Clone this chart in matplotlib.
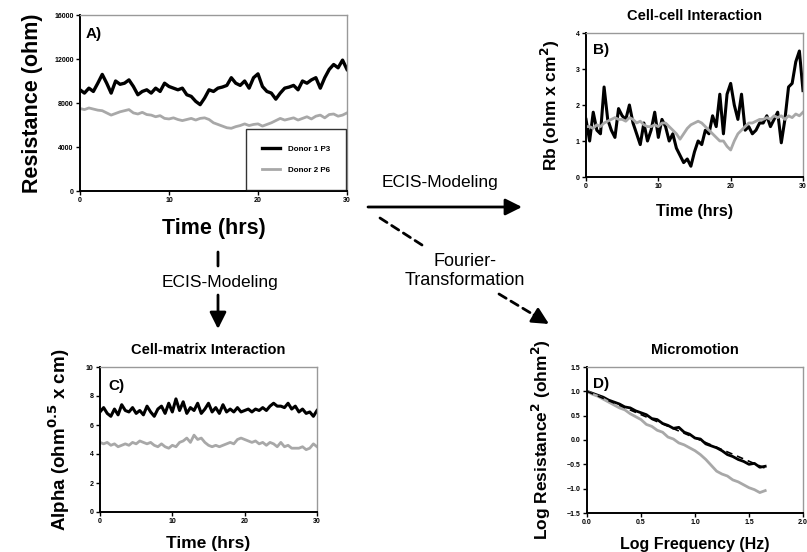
import numpy as np
import matplotlib.pyplot as plt
from matplotlib.patches import FancyArrowPatch

plt.rcParams['font.family'] = ['Liberation Sans', 'DejaVu Sans']

# time axis (hrs) for panels A, B, C
t = np.arange(0, 30.01, 0.5)

# A) resistance (ohm)
res_d1 = [9200, 8900, 9350, 9050, 9800, 10600, 9800, 8900, 10000, 9700,
          9800, 10100, 9500, 8750, 9050, 9200, 8900, 9350, 9050, 9800,
          9500, 9350, 9200, 9350, 8750, 8600, 8150, 7850, 8450, 9200,
          9050, 9350, 9450, 9600, 10300, 9800, 9600, 10000, 9350, 10300,
          10650, 9500, 9050, 8900, 8350, 8900, 9350, 9450, 9600, 9200,
          10000, 9800, 10100, 10300, 9350, 10300, 11050, 11500, 11200, 11900,
          11050]
res_d2 = [7500, 7400, 7550, 7450, 7350, 7300, 7100, 6900, 7050, 7200,
          7300, 7400, 7100, 7000, 7150, 6950, 6900, 6750, 6850, 6600,
          6550, 6650, 6500, 6400, 6500, 6600, 6450, 6600, 6650, 6500,
          6200, 6050, 5900, 5750, 5700, 5850, 5950, 6100, 5950, 6050,
          6100, 5900, 6050, 6200, 6400, 6600, 6450, 6550, 6650, 6450,
          6600, 6750, 6550, 6800, 6900, 6650, 6950, 7000, 6800, 6900,
          7100]

# B) Rb (ohm x cm^2)
rb_d1 = [1.6, 1.0, 1.8, 1.3, 1.2, 2.5, 1.6, 1.3, 1.1, 1.9,
         1.7, 1.6, 2.0, 1.5, 1.2, 0.9, 1.5, 1.0, 1.3, 1.8,
         1.1, 1.6, 1.4, 1.0, 1.2, 0.8, 0.6, 0.4, 0.5, 0.3,
         0.7, 1.0, 0.9, 1.3, 1.2, 1.7, 1.4, 2.3, 1.2, 2.3,
         2.6, 2.0, 1.6, 2.3, 1.3, 1.4, 1.2, 1.3, 1.5, 1.5,
         1.7, 1.4, 1.6, 1.8, 0.95, 1.6, 2.5, 2.6, 3.2, 3.5,
         2.4]
rb_d2 = [1.4, 1.4, 1.35, 1.45, 1.4, 1.5, 1.55, 1.6, 1.65, 1.6,
         1.6, 1.55, 1.65, 1.6, 1.5, 1.55, 1.45, 1.4, 1.4, 1.45,
         1.4, 1.5, 1.5, 1.4, 1.3, 1.2, 1.05, 1.2, 1.35, 1.45,
         1.5, 1.55, 1.5, 1.4, 1.3, 1.2, 1.1, 1.0, 1.0, 0.85,
         0.75, 1.0, 1.2, 1.3, 1.4, 1.5, 1.5, 1.55, 1.6, 1.6,
         1.65, 1.6, 1.7, 1.65, 1.7, 1.6, 1.7, 1.65, 1.75, 1.7,
         1.8]

# C) Alpha (ohm^0.5 x cm)
alpha_d1 = [6.9, 7.2, 6.8, 6.6, 7.1, 6.7, 7.4, 7.0, 6.9, 7.2,
            6.8, 7.0, 6.7, 7.3, 6.9, 6.6, 7.1, 7.3, 6.8, 7.5,
            6.9, 7.8, 7.0, 7.6, 6.8, 7.2, 7.0, 7.5, 6.8, 7.1,
            7.5, 6.9, 7.2, 6.8, 7.4, 6.9, 7.1, 6.9, 7.2, 6.9,
            7.0, 7.1, 6.9, 7.1, 7.0, 7.2, 7.0, 7.3, 7.5, 7.3,
            7.3, 7.2, 7.5, 7.1, 7.3, 6.9, 7.1, 6.8, 6.9, 6.6,
            7.0]
alpha_d2 = [4.8, 4.7, 4.8, 4.6, 4.7, 4.5, 4.6, 4.7, 4.6, 4.8,
            4.7, 4.9, 4.8, 4.7, 4.8, 4.6, 4.5, 4.7, 4.5, 4.4,
            4.6, 4.5, 4.8, 4.9, 5.1, 4.8, 5.3, 5.0, 5.1, 4.8,
            4.6, 4.5, 4.6, 4.5, 4.6, 4.7, 4.8, 4.7, 5.0, 5.1,
            5.0, 4.9, 4.8, 4.9, 4.7, 4.8, 4.6, 4.8, 4.7, 4.5,
            4.8, 4.5, 4.6, 4.4, 4.4, 4.4, 4.5, 4.3, 4.4, 4.7,
            4.5]

# D) micromotion spectra
logf = np.arange(0, 1.651, 0.05)
spec_d1 = [1.00, 0.96, 0.92, 0.88, 0.82, 0.78, 0.74, 0.68, 0.66, 0.60,
           0.56, 0.52, 0.44, 0.42, 0.34, 0.30, 0.24, 0.26, 0.16, 0.12,
           0.04, 0.02, -0.08, -0.12, -0.16, -0.22, -0.30, -0.34, -0.40, -0.44,
           -0.50, -0.48, -0.56, -0.54]
spec_d2 = [1.00, 0.94, 0.90, 0.84, 0.78, 0.72, 0.66, 0.62, 0.54, 0.48,
           0.42, 0.32, 0.28, 0.20, 0.16, 0.06, 0.02, -0.06, -0.10, -0.16,
           -0.22, -0.30, -0.40, -0.52, -0.64, -0.70, -0.74, -0.82, -0.86, -0.92,
           -0.98, -1.02, -1.08, -1.04]
fit_x = [0.0, 1.65]
fit_d1 = [1.0, -0.58]

W, H = 807, 552
BLACK = 'black'
GRAY = '#a8a8a8'

fig = plt.figure(figsize=(W / 100, H / 100), dpi=100)


def px_axes(l, t_, r, b):
    return fig.add_axes([l / W, 1 - b / H, (r - l) / W, (b - t_) / H])


def style(ax):
    for s in ['left', 'bottom']:
        ax.spines[s].set_linewidth(1.4)
    for s in ['top', 'right']:
        ax.spines[s].set_color('#999999')
        ax.spines[s].set_linewidth(1.0)
    ax.tick_params(length=3, width=1, labelsize=5, pad=1.5)
    for lab in ax.get_xticklabels() + ax.get_yticklabels():
        lab.set_fontweight('bold')


# panel A
axA = px_axes(80, 15, 347, 191)
axA.plot(t, res_d1, color=BLACK, lw=2.4, label='Donor 1 P3')
axA.plot(t, res_d2, color=GRAY, lw=2.0, label='Donor 2 P6')
axA.set_xlim(0, 30)
axA.set_ylim(0, 16000)
axA.set_xticks([0, 10, 20, 30])
axA.set_yticks([0, 4000, 8000, 12000, 16000])
axA.set_ylabel('Resistance (ohm)', fontsize=15.5, fontweight='bold', labelpad=8)
axA.set_xlabel('Time (hrs)', fontsize=15.5, fontweight='bold', labelpad=10)
axA.text(0.02, 0.93, 'A)', transform=axA.transAxes, fontsize=11,
         fontweight='bold', va='top')
leg = axA.legend(loc='lower right', frameon=True, fancybox=False,
                 edgecolor='black', borderpad=2.0, handlelength=2.2,
                 labelspacing=1.7, borderaxespad=0.1, handletextpad=1.0,
                 prop={'weight': 'bold', 'size': 5.8})
leg.get_frame().set_linewidth(1.0)
style(axA)

# panel B
axB = px_axes(586, 33, 803, 177)
axB.plot(t, rb_d1, color=BLACK, lw=2.2)
axB.plot(t, rb_d2, color=GRAY, lw=2.0)
axB.set_xlim(0, 30)
axB.set_ylim(0, 4)
axB.set_xticks([0, 10, 20, 30])
axB.set_yticks([0, 1, 2, 3, 4])
axB.set_title('Cell-cell Interaction', fontsize=10.5, fontweight='bold', pad=9)
axB.set_ylabel('Rb (ohm x cm$^\\mathbf{2}$)', fontsize=12.5, fontweight='bold', labelpad=10)
axB.set_xlabel('Time (hrs)', fontsize=11.5, fontweight='bold', labelpad=10)
axB.text(0.03, 0.93, 'B)', transform=axB.transAxes, fontsize=11,
         fontweight='bold', va='top')
style(axB)

# panel C
axC = px_axes(100, 367, 317, 512)
axC.plot(t, alpha_d1, color=BLACK, lw=2.2)
axC.plot(t, alpha_d2, color=GRAY, lw=2.0)
axC.set_xlim(0, 30)
axC.set_ylim(0, 10)
axC.set_xticks([0, 10, 20, 30])
axC.set_yticks([0, 2, 4, 6, 8, 10])
axC.set_title('Cell-matrix Interaction', fontsize=10.5, fontweight='bold', pad=9)
axC.set_ylabel('Alpha (ohm$^\\mathbf{0.5}$ x cm)', fontsize=13.5, fontweight='bold', labelpad=10)
axC.set_xlabel('Time (hrs)', fontsize=12.5, fontweight='bold', labelpad=8)
axC.text(0.04, 0.92, 'C)', transform=axC.transAxes, fontsize=11,
         fontweight='bold', va='top')
style(axC)

# panel D
axD = px_axes(587, 367, 803, 513)
axD.plot(logf, spec_d1, color=BLACK, lw=2.0)
axD.plot(logf, spec_d2, color=GRAY, lw=2.0)
axD.plot(fit_x, fit_d1, color=BLACK, lw=1.2, ls=(0, (4, 3)))
axD.set_xlim(0, 2)
axD.set_ylim(-1.5, 1.5)
axD.set_xticks([0, 0.5, 1.0, 1.5, 2.0])
axD.set_yticks([-1.5, -1.0, -0.5, 0, 0.5, 1.0, 1.5])
axD.xaxis.set_major_formatter('{x:.1f}')
axD.yaxis.set_major_formatter('{x:.1f}')
axD.set_title('Micromotion', fontsize=10.5, fontweight='bold', pad=9)
axD.set_ylabel('Log Resistance$^\\mathbf{2}$ (ohm$^\\mathbf{2}$)', fontsize=12.5,
               fontweight='bold', labelpad=10)
axD.set_xlabel('Log Frequency (Hz)', fontsize=11.5, fontweight='bold', labelpad=8)
axD.text(0.03, 0.93, 'D)', transform=axD.transAxes, fontsize=11,
         fontweight='bold', va='top')
style(axD)


# arrows and labels between panels
def fpt(x, y):
    return (x / W, 1 - y / H)


def arrow(p0, p1, ls='-', head=True):
    style_ = '-|>,head_length=10,head_width=5' if head else '-'
    a = FancyArrowPatch(fpt(*p0), fpt(*p1), transform=fig.transFigure,
                        arrowstyle=style_, mutation_scale=1, color='black',
                        lw=2.0, linestyle=ls, shrinkA=0, shrinkB=0)
    fig.add_artist(a)


arrow((368, 207), (522, 207))
fig.text(*fpt(440, 183), 'ECIS-Modeling', fontsize=12.5, ha='center', va='center')

arrow((218, 252), (218, 266), head=False)
fig.text(*fpt(220, 283), 'ECIS-Modeling', fontsize=12.5, ha='center', va='center')
arrow((218, 295), (218, 329))

arrow((380, 218), (422, 245), ls=(0, (3, 2)), head=False)
fig.text(*fpt(465, 271), 'Fourier-\nTransformation', fontsize=13, ha='center',
         va='center', linespacing=1.2)
arrow((499, 294), (534, 315), ls=(0, (3, 2)), head=False)
arrow((534, 315), (549, 324))

fig.savefig('out.png', dpi=100)
